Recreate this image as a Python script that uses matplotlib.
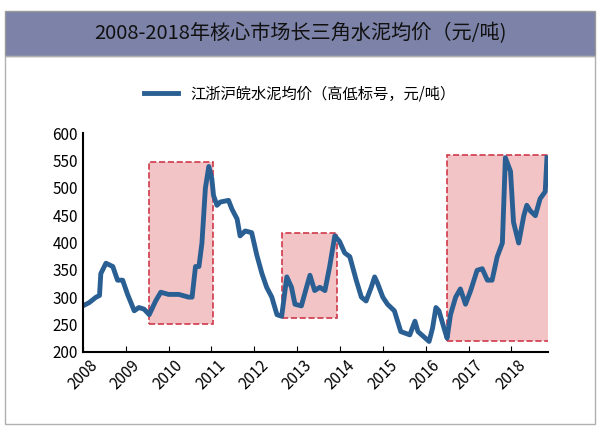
import matplotlib
matplotlib.use("Agg")
import matplotlib.pyplot as plt
from matplotlib import font_manager
from matplotlib.patches import Rectangle

# pick whichever CJK family is actually registered
cjk = [f.name for f in font_manager.fontManager.ttflist if "CJK" in f.name]
plt.rcParams["font.family"] = "sans-serif"
plt.rcParams["font.sans-serif"] = (sorted(set(cjk)) if cjk else []) + ["Noto Sans CJK SC", "DejaVu Sans"]
plt.rcParams["axes.unicode_minus"] = False

# price series (year fraction, yuan/ton)
years = [2008.0, 2008.15, 2008.31, 2008.39, 2008.42, 2008.54, 2008.70, 2008.81, 2008.93, 2009.04,
         2009.2, 2009.31, 2009.43, 2009.55, 2009.70, 2009.82, 2010.0, 2010.24, 2010.47, 2010.55,
         2010.63, 2010.71, 2010.78, 2010.86, 2010.94, 2011.01, 2011.05, 2011.13, 2011.21, 2011.40,
         2011.48, 2011.60, 2011.67, 2011.79, 2011.94, 2012.06, 2012.18, 2012.29, 2012.41, 2012.53,
         2012.64, 2012.76, 2012.87, 2012.95, 2013.10, 2013.22, 2013.30, 2013.41, 2013.53, 2013.65,
         2013.76, 2013.88, 2013.99, 2014.11, 2014.23, 2014.38, 2014.50, 2014.61, 2014.73, 2014.81,
         2014.88, 2015.0, 2015.11, 2015.27, 2015.42, 2015.63, 2015.75, 2015.82, 2016.08, 2016.16,
         2016.24, 2016.31, 2016.43, 2016.5, 2016.58, 2016.70, 2016.81, 2016.93, 2017.05, 2017.2,
         2017.32, 2017.44, 2017.55, 2017.67, 2017.79, 2017.86, 2017.98, 2018.05, 2018.17, 2018.29,
         2018.36, 2018.44, 2018.56, 2018.67, 2018.79, 2018.83]
prices = [284, 290, 300, 303, 343, 362, 356, 331, 331, 306,
          275, 281, 278, 268, 293, 309, 305, 305, 300, 300,
          356, 356, 399, 499, 539, 517, 486, 468, 474, 477,
          461, 443, 412, 421, 418, 377, 343, 318, 300, 268,
          265, 337, 318, 287, 284, 318, 340, 312, 318, 312,
          356, 412, 402, 381, 374, 331, 300, 293, 318, 337,
          325, 300, 287, 275, 237, 231, 256, 237, 219, 243,
          281, 275, 243, 225, 268, 300, 315, 287, 312, 349,
          352, 331, 331, 374, 399, 555, 530, 437, 399, 449,
          468, 458, 449, 480, 493, 555]

# highlighted periods: (start, end, low, high)
boxes = [(2009.55, 2011.03, 251, 547),
         (2012.64, 2013.92, 262, 418),
         (2016.50, 2018.89, 219, 560)]

year_ticks = list(range(2008, 2019))
y_ticks = list(range(200, 601, 50))

fig = plt.figure(figsize=(6, 4.28), dpi=100)

# title band
fig.patches.append(Rectangle((0.008, 0.87), 0.984, 0.105, transform=fig.transFigure,
                             facecolor="#7d82a8", edgecolor="#9a9a9a", lw=1))
fig.patches.append(Rectangle((0.008, 0.01), 0.984, 0.86, transform=fig.transFigure,
                             facecolor="none", edgecolor="#b0b0b0", lw=1))
fig.text(0.5, 0.922, "2008-2018年核心市场长三角水泥均价（元/吨)", ha="center", va="center",
         fontsize=14.5, color="#111111")

ax = fig.add_axes([0.138, 0.178, 0.775, 0.511])
for x0, x1, lo, hi in boxes:
    ax.add_patch(Rectangle((x0, lo), x1 - x0, hi - lo, facecolor="#f2c4c6",
                           edgecolor="#d0394a", ls="--", lw=1.2, zorder=1))
line, = ax.plot(years, prices, color="#2a5f93", lw=3.5, zorder=2,
                label="江浙沪皖水泥均价（高低标号，元/吨）")

ax.set_xlim(2008, 2018.85)
ax.set_ylim(200, 600)
ax.set_xticks(year_ticks)
ax.set_xticklabels([str(y) for y in year_ticks], rotation=45, fontsize=11)
ax.set_yticks(y_ticks)
ax.tick_params(axis="y", labelsize=11, length=0)
ax.tick_params(axis="x", direction="in", length=4)
for s in ["top", "right"]:
    ax.spines[s].set_visible(False)
ax.spines["left"].set_linewidth(1.5)
ax.spines["bottom"].set_linewidth(1.5)

fig.legend(handles=[line], loc="center", bbox_to_anchor=(0.5, 0.78), frameon=False,
           fontsize=11, handlelength=2.2)

fig.savefig("out.png", dpi=100)
